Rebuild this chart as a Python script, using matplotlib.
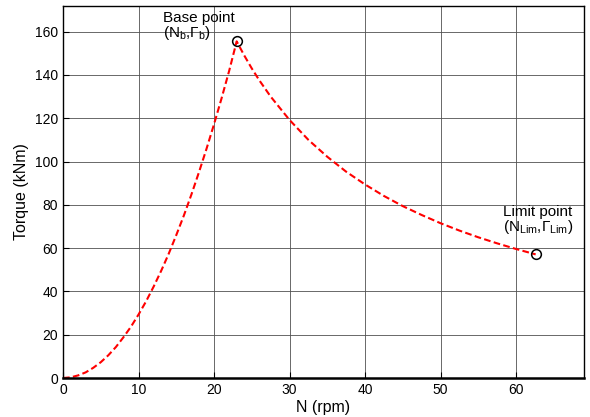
import matplotlib
matplotlib.use('Agg')
import matplotlib.pyplot as plt

plt.rcParams['font.family'] = ['Liberation Sans', 'DejaVu Sans']
plt.rcParams['mathtext.fontset'] = 'custom'
plt.rcParams['mathtext.rm'] = 'Liberation Sans'
plt.rcParams['mathtext.it'] = 'Liberation Sans'

# torque-speed curve
speed = [0, 1, 2, 3, 4, 5, 6, 7, 8, 9, 10, 11, 12, 13, 14, 15, 16, 17, 18,
         19, 20, 21, 22, 23,
         24, 25, 26, 27.5, 30, 32.5, 35, 37.5, 40, 42.5, 45, 47.5, 50,
         52.5, 55, 57.5, 60, 62.6]
torque = [0, 0.3, 1.2, 2.6, 4.7, 7.3, 10.5, 14.3, 18.8, 23.7, 29.3, 35.4,
          42.2, 49.5, 57.4, 66.0, 75.0, 84.7, 95.0, 105.8, 117.2, 129.2,
          141.8, 155.5,
          149.0, 143.0, 137.5, 130.0, 119.2, 110.0, 102.2, 95.3, 89.4, 84.1,
          79.4, 75.3, 71.5, 68.1, 65.0, 62.2, 59.6, 57.1]
base_pt = (23, 155.5)
limit_pt = (62.6, 57.1)
xticks = [0, 10, 20, 30, 40, 50, 60]
yticks = [0, 20, 40, 60, 80, 100, 120, 140, 160]

fig = plt.figure(figsize=(5.9, 4.17), dpi=100)
ax = fig.add_axes([0.1068, 0.0935, 0.883, 0.893])

ax.plot(speed, torque, color='red', linestyle='--', dashes=(3.2, 1.6), lw=1.5)
ax.plot(*base_pt, 'o', mfc='none', mec='black', ms=7, mew=1.1)
ax.plot(*limit_pt, 'o', mfc='none', mec='black', ms=7, mew=1.1)

fs = 11
ax.text(13.25, 169.5, 'Base point\n' + r'(N$_{\rm b}$,$\Gamma_{\rm b}$)',
        fontsize=fs, va='top', ha='left', linespacing=0.95)
ax.text(58.3, 80.0, 'Limit point\n' + r'(N$_{\rm Lim}$,$\Gamma_{\rm Lim}$)',
        fontsize=fs, va='top', ha='left', linespacing=0.95)

ax.set_xlim(0, 69)
ax.set_ylim(0, 172)
ax.set_xticks(xticks)
ax.set_yticks(yticks)
ax.tick_params(direction='in', length=4, labelsize=10, width=0.8)
ax.grid(True, color='#505050', lw=0.6)
ax.set_axisbelow(True)
for s in ax.spines.values():
    s.set_linewidth(1.0)
ax.spines['bottom'].set_linewidth(1.8)

ax.set_xlabel('N (rpm)', fontsize=11.5, labelpad=2)
ax.set_ylabel('Torque (kNm)', fontsize=11.5, labelpad=4)

fig.savefig('out.png', dpi=100)
